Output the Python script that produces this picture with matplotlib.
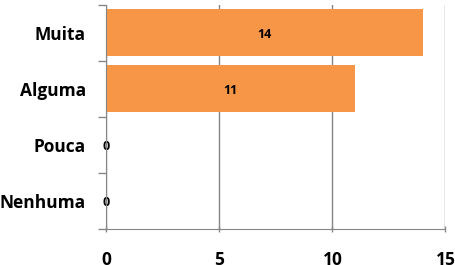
import matplotlib
matplotlib.use("Agg")
import matplotlib.pyplot as plt

categories = ["Muita", "Alguma", "Pouca", "Nenhuma"]
values = [14, 11, 0, 0]
xticks = [0, 5, 10, 15]

plt.rcParams['font.family'] = ['Open Sans', 'DejaVu Sans']

fig = plt.figure(figsize=(4.56, 2.65), dpi=100)
ax = fig.add_axes([106.5 / 456, 1 - 229 / 265, (445.5 - 106.5) / 456, (229 - 4.5) / 265])

ypos = list(range(len(categories)))
bars = ax.barh(ypos, values, height=0.84, color="#F79646", zorder=3)
ax.set_ylim(len(categories) - 0.5, -0.5)
ax.set_xlim(0, 15)

for y, v in zip(ypos, values):
    x = v / 2 if v > 0 else 0
    ax.text(x, y + 0.03, str(v), ha="center", va="center", fontsize=9,
            fontweight="bold", zorder=4)

ax.set_xticks(xticks)
ax.set_xticklabels([str(t) for t in xticks], fontsize=12.5, fontweight="bold")
ax.set_yticks(ypos)
ax.set_yticklabels(categories, fontsize=12.5, fontweight="bold")
ax.set_yticks([i + 0.5 for i in range(-1, len(categories))], minor=True)
ax.tick_params(axis="y", which="major", length=0, pad=15)
ax.tick_params(axis="y", which="minor", length=6, color="#868686", width=1)
ax.tick_params(axis="x", length=5, color="#868686", width=1, pad=13, direction="inout")

ax.grid(axis="x", color="#868686", linewidth=1, zorder=0)
for s in ["top", "right"]:
    ax.spines[s].set_visible(False)
for s in ["left", "bottom"]:
    ax.spines[s].set_color("#868686")
    ax.spines[s].set_zorder(5)

fig.savefig("out.png", dpi=100)
